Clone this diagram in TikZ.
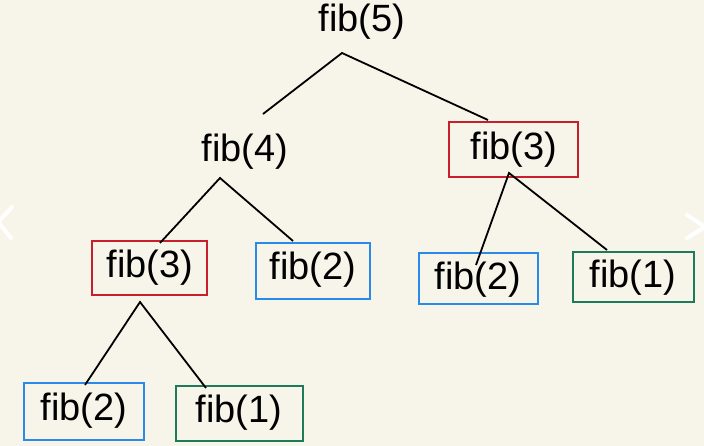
\documentclass[tikz,border=0pt]{standalone}
\usepackage{fontspec}
\setmainfont{Liberation Sans}
\definecolor{bg}{HTML}{F7F5EA}
\definecolor{rbox}{HTML}{C8202A}
\definecolor{bbox}{HTML}{2A8AE8}
\definecolor{gbox}{HTML}{1E7A5A}
\begin{document}
\begin{tikzpicture}[x=1pt,y=-1pt,
  lbl/.style={font=\fontsize{38}{42}\selectfont, inner sep=0pt, anchor=center},
  boxr/.style={draw=rbox, line width=2pt},
  boxb/.style={draw=bbox, line width=2pt},
  boxg/.style={draw=gbox, line width=2pt},
  edge/.style={draw=black, line width=1.8pt},
  chev/.style={draw=white, line width=4pt, line cap=round, line join=round}]
\fill[bg] (0,0) rectangle (704,446);
\useasboundingbox (0,0) rectangle (704,446);
\begin{scope}
\clip (0,0) rectangle (704,446);
\draw[chev] (12,207) -- (-2,222) -- (11,238);
\draw[chev] (687,215) -- (705,227) -- (687,238);
\end{scope}
% boxes
\draw[boxr] (449,122) rectangle (578,177);
\draw[boxr] (92,241) rectangle (207,295);
\draw[boxb] (256,243) rectangle (370,299);
\draw[boxb] (419,253) rectangle (538,304);
\draw[boxg] (573,252) rectangle (694,302);
\draw[boxb] (24,383) rectangle (144,440);
\draw[boxg] (176,386) rectangle (303,441);
% labels
\node[lbl] (f5) at (362,22) {fib(5)};
\node[lbl] (f4) at (245,152) {fib(4)};
\node[lbl] (f3r) at (514,150) {fib(3)};
\node[lbl] (f3l) at (150,268) {fib(3)};
\node[lbl] (f2m) at (313,270) {fib(2)};
\node[lbl] (f2r) at (478,280) {fib(2)};
\node[lbl] (f1r) at (633,278) {fib(1)};
\node[lbl] (f2b) at (84,411) {fib(2)};
\node[lbl] (f1b) at (239,413) {fib(1)};
% connector points
\coordinate (a5) at (342,53);
\coordinate (e54) at (263,114);
\coordinate (e53) at (488,120);
\coordinate (a4) at (220,178);
\coordinate (e43) at (160,243);
\coordinate (e42) at (293,241);
\coordinate (a3r) at (509,173);
\coordinate (e32) at (476,265);
\coordinate (e31) at (607,250);
\coordinate (a3l) at (140,302);
\coordinate (e32b) at (85,385);
\coordinate (e31b) at (206,388);
\draw[edge] (e54) -- (a5) -- (e53);
\draw[edge] (e43) -- (a4) -- (e42);
\draw[edge] (e32) -- (a3r) -- (e31);
\draw[edge] (e32b) -- (a3l) -- (e31b);
\end{tikzpicture}
\end{document}
